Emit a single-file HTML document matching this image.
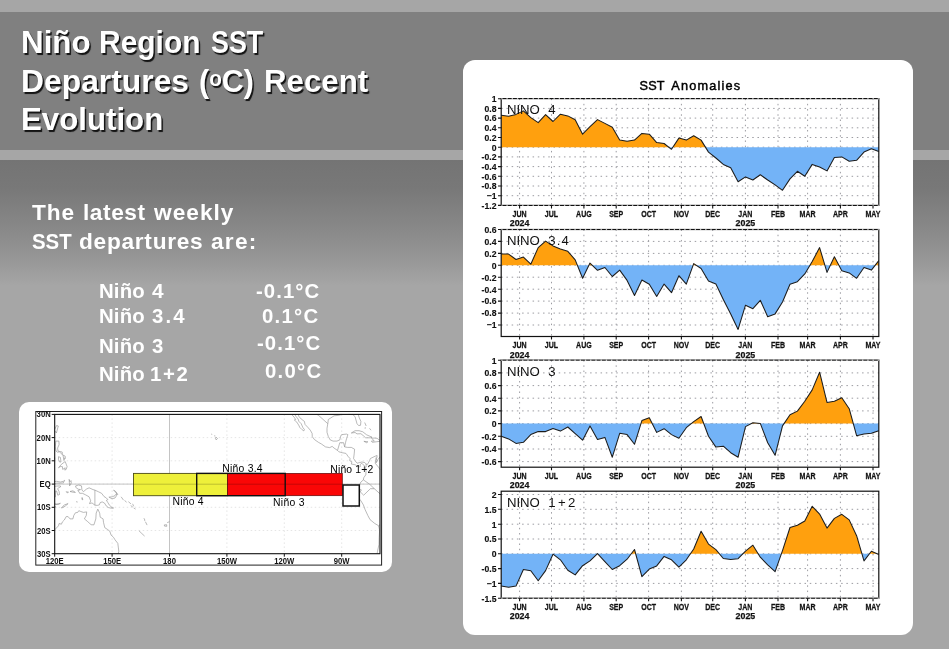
<!DOCTYPE html>
<html lang="en"><head><meta charset="utf-8"><title>Niño Region SST Departures</title>
<style>
html,body{margin:0;padding:0}
body{width:949px;height:649px;overflow:hidden;position:relative;background:#a6a6a6;font-family:"Liberation Sans",sans-serif}
.b1{position:absolute;left:0;top:0;width:949px;height:12px;background:#a6a6a6}
.b2{position:absolute;left:0;top:12px;width:949px;height:138px;background:#808080}
.b3{position:absolute;left:0;top:150px;width:949px;height:10px;background:#a6a6a6}
.b4{position:absolute;left:0;top:160px;width:949px;height:489px;background:linear-gradient(#747474 0,#787878 28px,#888 68px,#979797 100px,#a6a6a6 126px,#a6a6a6 100%)}
.card{position:absolute;background:#fff}
#c1{left:462.5px;top:60px;width:450.2px;height:575px;border-radius:12px}
#c2{left:19px;top:402px;width:372.5px;height:170px;border-radius:10px}
.g{margin:0;padding:0;font-size:0}
.w{position:absolute;font-weight:bold;color:#fff;white-space:nowrap;line-height:1;transform-origin:0 0}
.t{text-shadow:1.5px 1.5px .8px rgba(0,0,0,.85)}
sup{font-size:.68em;vertical-align:baseline;position:relative;top:-.28em;line-height:0}
svg{position:absolute;left:0;top:0}
svg text{font-family:"Liberation Sans",sans-serif;fill:#111}
.tk{font-size:9.3px;font-weight:bold;stroke:#111;stroke-width:.15px}
.gr{stroke:#9c9ca2;stroke-width:1;stroke-dasharray:1.5 3.73;fill:none}
.mo{font-size:8.8px;font-weight:bold;stroke:#111;stroke-width:.25px}
.nm{font-size:13.2px;fill:#111}
.tt{font-size:12.7px;fill:#000;stroke:#000;stroke-width:.45px}
.ml{font-size:9.6px;font-weight:bold}
.rg{font-size:10.4px;fill:#000}
</style></head><body>
<div class="b1"></div><div class="b2"></div><div class="b3"></div><div class="b4"></div>
<div id="txt"><h1 class="g"><span class="w t" style="left:21.01px;top:27.24px;font-size:31.5px;transform:scaleX(0.9955)">Niño</span> <span class="w t" style="left:99.10px;top:27.24px;font-size:31.5px;transform:scaleX(0.9515)">Region</span> <span class="w t" style="left:211.15px;top:27.24px;font-size:31.5px;transform:scaleX(0.8533)">SST</span> <span class="w t" style="left:20.98px;top:65.54px;font-size:31.5px;transform:scaleX(1.0104)">Departures</span> <span class="w t" style="left:199.43px;top:65.54px;font-size:31.5px;transform:scaleX(0.9685)">(<sup>o</sup>C)</span> <span class="w t" style="left:264.02px;top:65.54px;font-size:31.5px;transform:scaleX(0.9922)">Recent</span> <span class="w t" style="left:20.92px;top:104.14px;font-size:31.5px;transform:scaleX(0.9914)">Evolution</span></h1>
<p class="g"><span class="w b" style="left:32.00px;top:202.02px;font-size:21.6px;letter-spacing:0.86px;transform:scaleX(1.0500)">The</span> <span class="w b" style="left:83.35px;top:202.02px;font-size:21.6px;letter-spacing:0.54px;transform:scaleX(1.0500)">latest</span> <span class="w b" style="left:153.70px;top:202.02px;font-size:21.6px;letter-spacing:0.96px;transform:scaleX(1.0500)">weekly</span> <span class="w b" style="left:31.86px;top:231.12px;font-size:21.6px;transform:scaleX(0.9439)">SST</span> <span class="w b" style="left:78.95px;top:231.12px;font-size:21.6px;letter-spacing:0.69px;transform:scaleX(1.0500)">departures</span> <span class="w b" style="left:210.75px;top:231.12px;font-size:21.6px;letter-spacing:1.19px;transform:scaleX(1.0500)">are:</span></p>
<div class="g"><span class="w b" style="left:98.55px;top:282.08px;font-size:19.4px;letter-spacing:0.14px;transform:scaleX(1.0500)">Niño</span> <span class="w b" style="left:151.50px;top:282.08px;font-size:19.4px;transform:scaleX(1.0727)">4</span> <span class="w b" style="left:255.85px;top:282.08px;font-size:19.4px;letter-spacing:1.01px;transform:scaleX(1.0500)">-0.1°C</span></div>
<div class="g"><span class="w b" style="left:99.05px;top:307.38px;font-size:19.4px;letter-spacing:0.14px;transform:scaleX(1.0500)">Niño</span> <span class="w b" style="left:151.50px;top:307.38px;font-size:19.4px;letter-spacing:2.02px;transform:scaleX(1.0500)">3.4</span> <span class="w b" style="left:262.15px;top:306.58px;font-size:19.4px;letter-spacing:1.20px;transform:scaleX(1.0500)">0.1°C</span></div>
<div class="g"><span class="w b" style="left:98.55px;top:337.48px;font-size:19.4px;letter-spacing:0.14px;transform:scaleX(1.0500)">Niño</span> <span class="w b" style="left:151.50px;top:337.48px;font-size:19.4px;transform:scaleX(1.0500)">3</span> <span class="w b" style="left:257.15px;top:334.48px;font-size:19.4px;letter-spacing:0.99px;transform:scaleX(1.0500)">-0.1°C</span></div>
<div class="g"><span class="w b" style="left:98.55px;top:365.28px;font-size:19.4px;letter-spacing:0.14px;transform:scaleX(1.0500)">Niño</span> <span class="w b" style="left:150.45px;top:365.28px;font-size:19.4px;letter-spacing:1.60px;transform:scaleX(1.0500)">1+2</span> <span class="w b" style="left:264.75px;top:362.28px;font-size:19.4px;letter-spacing:1.18px;transform:scaleX(1.0500)">0.0°C</span></div></div>
<div class="card" id="c1"></div>
<div class="card" id="c2"></div>
<svg width="949" height="649" viewBox="0 0 949 649">
<text class="tt" y="89.9"><tspan x="639.6" textLength="24.8">SST</tspan> <tspan x="671.3" textLength="68.8">Anomalies</tspan></text>
<path d="M501.2,108.4H878.8M501.2,118.1H878.8M501.2,127.8H878.8M501.2,137.5H878.8M501.2,147.2H878.8M501.2,156.9H878.8M501.2,166.6H878.8M501.2,176.3H878.8M501.2,186.0H878.8M501.2,195.7H878.8M519.6,98.6V205.4M551.5,98.6V205.4M583.9,98.6V205.4M616.2,98.6V205.4M648.6,98.6V205.4M681.4,98.6V205.4M712.7,98.6V205.4M745.4,98.6V205.4M778.0,98.6V205.4M807.6,98.6V205.4M840.4,98.6V205.4M873.0,98.6V205.4" class="gr"/>
<clipPath id="c0a"><rect x="501.2" y="98.6" width="377.6" height="48.6"/></clipPath>
<clipPath id="c0b"><rect x="501.2" y="147.2" width="377.6" height="58.2"/></clipPath>
<path d="M501.2,205.4 L501.2,115.2 L508.6,116.3 L516.0,114.4 L523.4,110.9 L530.8,117.6 L538.2,122.6 L545.6,114.6 L553.0,121.5 L560.4,114.2 L567.8,115.9 L575.2,119.8 L582.6,134.2 L590.0,126.7 L597.5,119.6 L604.9,123.4 L612.3,127.3 L619.7,140.1 L627.1,141.3 L634.5,140.1 L641.9,133.4 L649.3,134.2 L656.7,142.6 L664.1,143.5 L671.5,149.3 L678.9,138.1 L686.3,140.1 L693.7,135.7 L701.1,140.1 L708.5,152.1 L715.9,158.0 L723.3,164.4 L730.7,167.7 L738.1,181.7 L745.5,176.9 L752.9,180.0 L760.3,174.8 L767.7,180.0 L775.1,184.9 L782.5,190.3 L790.0,178.9 L797.4,171.3 L804.8,176.3 L812.2,164.4 L819.6,167.0 L827.0,170.9 L834.4,157.5 L841.8,156.9 L849.2,161.2 L856.6,160.3 L864.0,152.1 L871.4,148.7 L878.8,151.5 L878.8,205.4 Z" fill="#ffa00e" clip-path="url(#c0a)"/>
<path d="M501.2,98.6 L501.2,115.2 L508.6,116.3 L516.0,114.4 L523.4,110.9 L530.8,117.6 L538.2,122.6 L545.6,114.6 L553.0,121.5 L560.4,114.2 L567.8,115.9 L575.2,119.8 L582.6,134.2 L590.0,126.7 L597.5,119.6 L604.9,123.4 L612.3,127.3 L619.7,140.1 L627.1,141.3 L634.5,140.1 L641.9,133.4 L649.3,134.2 L656.7,142.6 L664.1,143.5 L671.5,149.3 L678.9,138.1 L686.3,140.1 L693.7,135.7 L701.1,140.1 L708.5,152.1 L715.9,158.0 L723.3,164.4 L730.7,167.7 L738.1,181.7 L745.5,176.9 L752.9,180.0 L760.3,174.8 L767.7,180.0 L775.1,184.9 L782.5,190.3 L790.0,178.9 L797.4,171.3 L804.8,176.3 L812.2,164.4 L819.6,167.0 L827.0,170.9 L834.4,157.5 L841.8,156.9 L849.2,161.2 L856.6,160.3 L864.0,152.1 L871.4,148.7 L878.8,151.5 L878.8,98.6 Z" fill="#73b3f7" clip-path="url(#c0b)"/>
<polyline points="501.2,115.2 508.6,116.3 516.0,114.4 523.4,110.9 530.8,117.6 538.2,122.6 545.6,114.6 553.0,121.5 560.4,114.2 567.8,115.9 575.2,119.8 582.6,134.2 590.0,126.7 597.5,119.6 604.9,123.4 612.3,127.3 619.7,140.1 627.1,141.3 634.5,140.1 641.9,133.4 649.3,134.2 656.7,142.6 664.1,143.5 671.5,149.3 678.9,138.1 686.3,140.1 693.7,135.7 701.1,140.1 708.5,152.1 715.9,158.0 723.3,164.4 730.7,167.7 738.1,181.7 745.5,176.9 752.9,180.0 760.3,174.8 767.7,180.0 775.1,184.9 782.5,190.3 790.0,178.9 797.4,171.3 804.8,176.3 812.2,164.4 819.6,167.0 827.0,170.9 834.4,157.5 841.8,156.9 849.2,161.2 856.6,160.3 864.0,152.1 871.4,148.7 878.8,151.5" fill="none" stroke="#1c1c1c" stroke-width="1.05" stroke-linejoin="round"/>
<rect x="501.2" y="98.6" width="377.6" height="106.8" fill="none" stroke="#111" stroke-width="1.2"/>
<path d="M501.2,98.7H878.8M501.2,205.4H878.8" stroke="#fff" stroke-opacity=".7" stroke-width="1.4" stroke-dasharray="1.3 3.93" fill="none"/>
<path d="M498.0,98.7H501.2M498.0,108.4H501.2M498.0,118.1H501.2M498.0,127.8H501.2M498.0,137.5H501.2M498.0,147.2H501.2M498.0,156.9H501.2M498.0,166.6H501.2M498.0,176.3H501.2M498.0,186.0H501.2M498.0,195.7H501.2M498.0,205.4H501.2M519.6,205.4v3M551.5,205.4v3M583.9,205.4v3M616.2,205.4v3M648.6,205.4v3M681.4,205.4v3M712.7,205.4v3M745.4,205.4v3M778.0,205.4v3M807.6,205.4v3M840.4,205.4v3M873.0,205.4v3" stroke="#111" stroke-width="1.1" fill="none"/>
<text class="tk" transform="translate(496.5,102.0) scale(.93,1)" text-anchor="end">1</text>
<text class="tk" transform="translate(496.5,111.7) scale(.93,1)" text-anchor="end">0.8</text>
<text class="tk" transform="translate(496.5,121.4) scale(.93,1)" text-anchor="end">0.6</text>
<text class="tk" transform="translate(496.5,131.1) scale(.93,1)" text-anchor="end">0.4</text>
<text class="tk" transform="translate(496.5,140.8) scale(.93,1)" text-anchor="end">0.2</text>
<text class="tk" transform="translate(496.5,150.5) scale(.93,1)" text-anchor="end">0</text>
<text class="tk" transform="translate(496.5,160.2) scale(.93,1)" text-anchor="end">-0.2</text>
<text class="tk" transform="translate(496.5,169.9) scale(.93,1)" text-anchor="end">-0.4</text>
<text class="tk" transform="translate(496.5,179.6) scale(.93,1)" text-anchor="end">-0.6</text>
<text class="tk" transform="translate(496.5,189.3) scale(.93,1)" text-anchor="end">-0.8</text>
<text class="tk" transform="translate(496.5,199.0) scale(.93,1)" text-anchor="end">−1</text>
<text class="tk" transform="translate(496.5,208.7) scale(.93,1)" text-anchor="end">-1.2</text>
<text class="mo" transform="translate(519.6,216.9) scale(0.8,1)" text-anchor="middle">JUN</text>
<text class="mo" x="519.6" y="226.4" text-anchor="middle">2024</text>
<text class="mo" transform="translate(551.5,216.9) scale(0.8,1)" text-anchor="middle">JUL</text>
<text class="mo" transform="translate(583.9,216.9) scale(0.8,1)" text-anchor="middle">AUG</text>
<text class="mo" transform="translate(616.2,216.9) scale(0.8,1)" text-anchor="middle">SEP</text>
<text class="mo" transform="translate(648.6,216.9) scale(0.8,1)" text-anchor="middle">OCT</text>
<text class="mo" transform="translate(681.4,216.9) scale(0.8,1)" text-anchor="middle">NOV</text>
<text class="mo" transform="translate(712.7,216.9) scale(0.8,1)" text-anchor="middle">DEC</text>
<text class="mo" transform="translate(745.4,216.9) scale(0.8,1)" text-anchor="middle">JAN</text>
<text class="mo" x="745.4" y="226.4" text-anchor="middle">2025</text>
<text class="mo" transform="translate(778.0,216.9) scale(0.8,1)" text-anchor="middle">FEB</text>
<text class="mo" transform="translate(807.6,216.9) scale(0.8,1)" text-anchor="middle">MAR</text>
<text class="mo" transform="translate(840.4,216.9) scale(0.8,1)" text-anchor="middle">APR</text>
<text class="mo" transform="translate(873.0,216.9) scale(0.8,1)" text-anchor="middle">MAY</text>
<text class="nm" x="506.9" y="114.2">NINO <tspan x="548.3" letter-spacing="1.1">4</tspan></text>
<path d="M501.2,241.4H878.8M501.2,253.4H878.8M501.2,265.3H878.8M501.2,277.2H878.8M501.2,289.2H878.8M501.2,301.1H878.8M501.2,313.1H878.8M501.2,325.0H878.8M519.6,229.5V336.5M551.5,229.5V336.5M583.9,229.5V336.5M616.2,229.5V336.5M648.6,229.5V336.5M681.4,229.5V336.5M712.7,229.5V336.5M745.4,229.5V336.5M778.0,229.5V336.5M807.6,229.5V336.5M840.4,229.5V336.5M873.0,229.5V336.5" class="gr"/>
<clipPath id="c1a"><rect x="501.2" y="229.5" width="377.6" height="35.8"/></clipPath>
<clipPath id="c1b"><rect x="501.2" y="265.3" width="377.6" height="71.2"/></clipPath>
<path d="M501.2,336.5 L501.2,253.9 L508.6,254.1 L516.0,259.5 L523.4,257.1 L530.8,264.2 L538.2,247.6 L545.6,241.1 L553.0,245.9 L560.4,249.1 L567.8,251.3 L575.2,259.9 L582.6,278.3 L590.0,263.1 L597.5,270.3 L604.9,267.5 L612.3,276.5 L619.7,270.1 L627.1,280.4 L634.5,295.5 L641.9,280.0 L649.3,284.3 L656.7,296.4 L664.1,284.1 L671.5,292.7 L678.9,275.7 L686.3,284.1 L693.7,263.6 L701.1,268.5 L708.5,281.1 L715.9,284.1 L723.3,299.4 L730.7,313.9 L738.1,329.4 L745.5,305.2 L752.9,308.7 L760.3,300.3 L767.7,316.7 L775.1,313.9 L782.5,302.0 L790.0,284.3 L797.4,281.7 L804.8,273.9 L812.2,261.6 L819.6,247.6 L827.0,272.4 L834.4,256.7 L841.8,270.7 L849.2,272.9 L856.6,278.3 L864.0,267.5 L871.4,270.1 L878.8,260.6 L878.8,336.5 Z" fill="#ffa00e" clip-path="url(#c1a)"/>
<path d="M501.2,229.5 L501.2,253.9 L508.6,254.1 L516.0,259.5 L523.4,257.1 L530.8,264.2 L538.2,247.6 L545.6,241.1 L553.0,245.9 L560.4,249.1 L567.8,251.3 L575.2,259.9 L582.6,278.3 L590.0,263.1 L597.5,270.3 L604.9,267.5 L612.3,276.5 L619.7,270.1 L627.1,280.4 L634.5,295.5 L641.9,280.0 L649.3,284.3 L656.7,296.4 L664.1,284.1 L671.5,292.7 L678.9,275.7 L686.3,284.1 L693.7,263.6 L701.1,268.5 L708.5,281.1 L715.9,284.1 L723.3,299.4 L730.7,313.9 L738.1,329.4 L745.5,305.2 L752.9,308.7 L760.3,300.3 L767.7,316.7 L775.1,313.9 L782.5,302.0 L790.0,284.3 L797.4,281.7 L804.8,273.9 L812.2,261.6 L819.6,247.6 L827.0,272.4 L834.4,256.7 L841.8,270.7 L849.2,272.9 L856.6,278.3 L864.0,267.5 L871.4,270.1 L878.8,260.6 L878.8,229.5 Z" fill="#73b3f7" clip-path="url(#c1b)"/>
<polyline points="501.2,253.9 508.6,254.1 516.0,259.5 523.4,257.1 530.8,264.2 538.2,247.6 545.6,241.1 553.0,245.9 560.4,249.1 567.8,251.3 575.2,259.9 582.6,278.3 590.0,263.1 597.5,270.3 604.9,267.5 612.3,276.5 619.7,270.1 627.1,280.4 634.5,295.5 641.9,280.0 649.3,284.3 656.7,296.4 664.1,284.1 671.5,292.7 678.9,275.7 686.3,284.1 693.7,263.6 701.1,268.5 708.5,281.1 715.9,284.1 723.3,299.4 730.7,313.9 738.1,329.4 745.5,305.2 752.9,308.7 760.3,300.3 767.7,316.7 775.1,313.9 782.5,302.0 790.0,284.3 797.4,281.7 804.8,273.9 812.2,261.6 819.6,247.6 827.0,272.4 834.4,256.7 841.8,270.7 849.2,272.9 856.6,278.3 864.0,267.5 871.4,270.1 878.8,260.6" fill="none" stroke="#1c1c1c" stroke-width="1.05" stroke-linejoin="round"/>
<rect x="501.2" y="229.5" width="377.6" height="107.0" fill="none" stroke="#111" stroke-width="1.2"/>
<path d="M501.2,229.5H878.8" stroke="#fff" stroke-opacity=".7" stroke-width="1.4" stroke-dasharray="1.3 3.93" fill="none"/>
<path d="M498.0,229.5H501.2M498.0,241.4H501.2M498.0,253.4H501.2M498.0,265.3H501.2M498.0,277.2H501.2M498.0,289.2H501.2M498.0,301.1H501.2M498.0,313.1H501.2M498.0,325.0H501.2M519.6,336.5v3M551.5,336.5v3M583.9,336.5v3M616.2,336.5v3M648.6,336.5v3M681.4,336.5v3M712.7,336.5v3M745.4,336.5v3M778.0,336.5v3M807.6,336.5v3M840.4,336.5v3M873.0,336.5v3" stroke="#111" stroke-width="1.1" fill="none"/>
<text class="tk" transform="translate(496.5,232.8) scale(.93,1)" text-anchor="end">0.6</text>
<text class="tk" transform="translate(496.5,244.7) scale(.93,1)" text-anchor="end">0.4</text>
<text class="tk" transform="translate(496.5,256.7) scale(.93,1)" text-anchor="end">0.2</text>
<text class="tk" transform="translate(496.5,268.6) scale(.93,1)" text-anchor="end">0</text>
<text class="tk" transform="translate(496.5,280.5) scale(.93,1)" text-anchor="end">-0.2</text>
<text class="tk" transform="translate(496.5,292.5) scale(.93,1)" text-anchor="end">-0.4</text>
<text class="tk" transform="translate(496.5,304.4) scale(.93,1)" text-anchor="end">-0.6</text>
<text class="tk" transform="translate(496.5,316.4) scale(.93,1)" text-anchor="end">-0.8</text>
<text class="tk" transform="translate(496.5,328.3) scale(.93,1)" text-anchor="end">−1</text>
<text class="mo" transform="translate(519.6,348.0) scale(0.8,1)" text-anchor="middle">JUN</text>
<text class="mo" x="519.6" y="357.5" text-anchor="middle">2024</text>
<text class="mo" transform="translate(551.5,348.0) scale(0.8,1)" text-anchor="middle">JUL</text>
<text class="mo" transform="translate(583.9,348.0) scale(0.8,1)" text-anchor="middle">AUG</text>
<text class="mo" transform="translate(616.2,348.0) scale(0.8,1)" text-anchor="middle">SEP</text>
<text class="mo" transform="translate(648.6,348.0) scale(0.8,1)" text-anchor="middle">OCT</text>
<text class="mo" transform="translate(681.4,348.0) scale(0.8,1)" text-anchor="middle">NOV</text>
<text class="mo" transform="translate(712.7,348.0) scale(0.8,1)" text-anchor="middle">DEC</text>
<text class="mo" transform="translate(745.4,348.0) scale(0.8,1)" text-anchor="middle">JAN</text>
<text class="mo" x="745.4" y="357.5" text-anchor="middle">2025</text>
<text class="mo" transform="translate(778.0,348.0) scale(0.8,1)" text-anchor="middle">FEB</text>
<text class="mo" transform="translate(807.6,348.0) scale(0.8,1)" text-anchor="middle">MAR</text>
<text class="mo" transform="translate(840.4,348.0) scale(0.8,1)" text-anchor="middle">APR</text>
<text class="mo" transform="translate(873.0,348.0) scale(0.8,1)" text-anchor="middle">MAY</text>
<text class="nm" x="506.9" y="245.1">NINO <tspan x="548.3" letter-spacing="1.1">3.4</tspan></text>
<path d="M501.2,372.9H878.8M501.2,385.6H878.8M501.2,398.2H878.8M501.2,410.9H878.8M501.2,423.6H878.8M501.2,436.3H878.8M501.2,449.0H878.8M501.2,461.6H878.8M519.6,360.1V467.2M551.5,360.1V467.2M583.9,360.1V467.2M616.2,360.1V467.2M648.6,360.1V467.2M681.4,360.1V467.2M712.7,360.1V467.2M745.4,360.1V467.2M778.0,360.1V467.2M807.6,360.1V467.2M840.4,360.1V467.2M873.0,360.1V467.2" class="gr"/>
<clipPath id="c2a"><rect x="501.2" y="360.1" width="377.6" height="63.5"/></clipPath>
<clipPath id="c2b"><rect x="501.2" y="423.6" width="377.6" height="43.6"/></clipPath>
<path d="M501.2,467.2 L501.2,436.3 L508.6,438.9 L516.0,443.4 L523.4,442.3 L530.8,434.6 L538.2,431.6 L545.6,431.6 L553.0,428.5 L560.4,431.1 L567.8,427.0 L575.2,433.7 L582.6,440.2 L590.0,425.9 L597.5,439.5 L604.9,437.4 L612.3,457.2 L619.7,433.3 L627.1,434.6 L634.5,444.3 L641.9,420.6 L649.3,417.7 L656.7,432.4 L664.1,428.7 L671.5,434.6 L678.9,438.2 L686.3,427.7 L693.7,421.6 L701.1,416.5 L708.5,436.3 L715.9,447.1 L723.3,446.2 L730.7,452.7 L738.1,457.2 L745.5,426.6 L752.9,422.7 L760.3,423.4 L767.7,442.8 L775.1,455.3 L782.5,425.9 L790.0,414.7 L797.4,411.1 L804.8,401.3 L812.2,389.9 L819.6,372.2 L827.0,402.4 L834.4,401.3 L841.8,397.7 L849.2,408.7 L856.6,435.7 L864.0,434.1 L871.4,433.3 L878.8,430.7 L878.8,467.2 Z" fill="#ffa00e" clip-path="url(#c2a)"/>
<path d="M501.2,360.1 L501.2,436.3 L508.6,438.9 L516.0,443.4 L523.4,442.3 L530.8,434.6 L538.2,431.6 L545.6,431.6 L553.0,428.5 L560.4,431.1 L567.8,427.0 L575.2,433.7 L582.6,440.2 L590.0,425.9 L597.5,439.5 L604.9,437.4 L612.3,457.2 L619.7,433.3 L627.1,434.6 L634.5,444.3 L641.9,420.6 L649.3,417.7 L656.7,432.4 L664.1,428.7 L671.5,434.6 L678.9,438.2 L686.3,427.7 L693.7,421.6 L701.1,416.5 L708.5,436.3 L715.9,447.1 L723.3,446.2 L730.7,452.7 L738.1,457.2 L745.5,426.6 L752.9,422.7 L760.3,423.4 L767.7,442.8 L775.1,455.3 L782.5,425.9 L790.0,414.7 L797.4,411.1 L804.8,401.3 L812.2,389.9 L819.6,372.2 L827.0,402.4 L834.4,401.3 L841.8,397.7 L849.2,408.7 L856.6,435.7 L864.0,434.1 L871.4,433.3 L878.8,430.7 L878.8,360.1 Z" fill="#73b3f7" clip-path="url(#c2b)"/>
<polyline points="501.2,436.3 508.6,438.9 516.0,443.4 523.4,442.3 530.8,434.6 538.2,431.6 545.6,431.6 553.0,428.5 560.4,431.1 567.8,427.0 575.2,433.7 582.6,440.2 590.0,425.9 597.5,439.5 604.9,437.4 612.3,457.2 619.7,433.3 627.1,434.6 634.5,444.3 641.9,420.6 649.3,417.7 656.7,432.4 664.1,428.7 671.5,434.6 678.9,438.2 686.3,427.7 693.7,421.6 701.1,416.5 708.5,436.3 715.9,447.1 723.3,446.2 730.7,452.7 738.1,457.2 745.5,426.6 752.9,422.7 760.3,423.4 767.7,442.8 775.1,455.3 782.5,425.9 790.0,414.7 797.4,411.1 804.8,401.3 812.2,389.9 819.6,372.2 827.0,402.4 834.4,401.3 841.8,397.7 849.2,408.7 856.6,435.7 864.0,434.1 871.4,433.3 878.8,430.7" fill="none" stroke="#1c1c1c" stroke-width="1.05" stroke-linejoin="round"/>
<rect x="501.2" y="360.1" width="377.6" height="107.1" fill="none" stroke="#111" stroke-width="1.2"/>
<path d="M501.2,360.2H878.8" stroke="#fff" stroke-opacity=".7" stroke-width="1.4" stroke-dasharray="1.3 3.93" fill="none"/>
<path d="M498.0,360.2H501.2M498.0,372.9H501.2M498.0,385.6H501.2M498.0,398.2H501.2M498.0,410.9H501.2M498.0,423.6H501.2M498.0,436.3H501.2M498.0,449.0H501.2M498.0,461.6H501.2M519.6,467.2v3M551.5,467.2v3M583.9,467.2v3M616.2,467.2v3M648.6,467.2v3M681.4,467.2v3M712.7,467.2v3M745.4,467.2v3M778.0,467.2v3M807.6,467.2v3M840.4,467.2v3M873.0,467.2v3" stroke="#111" stroke-width="1.1" fill="none"/>
<text class="tk" transform="translate(496.5,363.5) scale(.93,1)" text-anchor="end">1</text>
<text class="tk" transform="translate(496.5,376.2) scale(.93,1)" text-anchor="end">0.8</text>
<text class="tk" transform="translate(496.5,388.9) scale(.93,1)" text-anchor="end">0.6</text>
<text class="tk" transform="translate(496.5,401.5) scale(.93,1)" text-anchor="end">0.4</text>
<text class="tk" transform="translate(496.5,414.2) scale(.93,1)" text-anchor="end">0.2</text>
<text class="tk" transform="translate(496.5,426.9) scale(.93,1)" text-anchor="end">0</text>
<text class="tk" transform="translate(496.5,439.6) scale(.93,1)" text-anchor="end">-0.2</text>
<text class="tk" transform="translate(496.5,452.3) scale(.93,1)" text-anchor="end">-0.4</text>
<text class="tk" transform="translate(496.5,464.9) scale(.93,1)" text-anchor="end">-0.6</text>
<text class="mo" transform="translate(519.6,478.7) scale(0.8,1)" text-anchor="middle">JUN</text>
<text class="mo" x="519.6" y="488.2" text-anchor="middle">2024</text>
<text class="mo" transform="translate(551.5,478.7) scale(0.8,1)" text-anchor="middle">JUL</text>
<text class="mo" transform="translate(583.9,478.7) scale(0.8,1)" text-anchor="middle">AUG</text>
<text class="mo" transform="translate(616.2,478.7) scale(0.8,1)" text-anchor="middle">SEP</text>
<text class="mo" transform="translate(648.6,478.7) scale(0.8,1)" text-anchor="middle">OCT</text>
<text class="mo" transform="translate(681.4,478.7) scale(0.8,1)" text-anchor="middle">NOV</text>
<text class="mo" transform="translate(712.7,478.7) scale(0.8,1)" text-anchor="middle">DEC</text>
<text class="mo" transform="translate(745.4,478.7) scale(0.8,1)" text-anchor="middle">JAN</text>
<text class="mo" x="745.4" y="488.2" text-anchor="middle">2025</text>
<text class="mo" transform="translate(778.0,478.7) scale(0.8,1)" text-anchor="middle">FEB</text>
<text class="mo" transform="translate(807.6,478.7) scale(0.8,1)" text-anchor="middle">MAR</text>
<text class="mo" transform="translate(840.4,478.7) scale(0.8,1)" text-anchor="middle">APR</text>
<text class="mo" transform="translate(873.0,478.7) scale(0.8,1)" text-anchor="middle">MAY</text>
<text class="nm" x="506.9" y="375.7">NINO <tspan x="548.3" letter-spacing="1.1">3</tspan></text>
<path d="M501.2,494.5H878.8M501.2,509.3H878.8M501.2,524.2H878.8M501.2,539.0H878.8M501.2,553.8H878.8M501.2,568.6H878.8M501.2,583.4H878.8M519.6,491.2V598.2M551.5,491.2V598.2M583.9,491.2V598.2M616.2,491.2V598.2M648.6,491.2V598.2M681.4,491.2V598.2M712.7,491.2V598.2M745.4,491.2V598.2M778.0,491.2V598.2M807.6,491.2V598.2M840.4,491.2V598.2M873.0,491.2V598.2" class="gr"/>
<clipPath id="c3a"><rect x="501.2" y="491.2" width="377.6" height="62.6"/></clipPath>
<clipPath id="c3b"><rect x="501.2" y="553.8" width="377.6" height="44.4"/></clipPath>
<path d="M501.2,598.2 L501.2,586.1 L508.6,587.2 L516.0,586.1 L523.4,569.5 L530.8,570.8 L538.2,580.8 L545.6,570.6 L553.0,554.2 L560.4,559.8 L567.8,570.2 L575.2,574.9 L582.6,565.7 L590.0,560.9 L597.5,553.6 L604.9,561.6 L612.3,569.5 L619.7,565.7 L627.1,559.2 L634.5,549.5 L641.9,576.7 L649.3,569.1 L656.7,565.9 L664.1,556.4 L671.5,559.8 L678.9,567.2 L686.3,559.8 L693.7,549.0 L701.1,531.3 L708.5,544.1 L715.9,549.7 L723.3,558.5 L730.7,559.4 L738.1,558.7 L745.5,551.2 L752.9,545.2 L760.3,557.2 L767.7,564.8 L775.1,571.7 L782.5,550.6 L790.0,527.5 L797.4,525.3 L804.8,521.0 L812.2,506.3 L819.6,514.1 L827.0,528.1 L834.4,518.4 L841.8,514.3 L849.2,519.9 L856.6,535.7 L864.0,560.9 L871.4,551.2 L878.8,554.4 L878.8,598.2 Z" fill="#ffa00e" clip-path="url(#c3a)"/>
<path d="M501.2,491.2 L501.2,586.1 L508.6,587.2 L516.0,586.1 L523.4,569.5 L530.8,570.8 L538.2,580.8 L545.6,570.6 L553.0,554.2 L560.4,559.8 L567.8,570.2 L575.2,574.9 L582.6,565.7 L590.0,560.9 L597.5,553.6 L604.9,561.6 L612.3,569.5 L619.7,565.7 L627.1,559.2 L634.5,549.5 L641.9,576.7 L649.3,569.1 L656.7,565.9 L664.1,556.4 L671.5,559.8 L678.9,567.2 L686.3,559.8 L693.7,549.0 L701.1,531.3 L708.5,544.1 L715.9,549.7 L723.3,558.5 L730.7,559.4 L738.1,558.7 L745.5,551.2 L752.9,545.2 L760.3,557.2 L767.7,564.8 L775.1,571.7 L782.5,550.6 L790.0,527.5 L797.4,525.3 L804.8,521.0 L812.2,506.3 L819.6,514.1 L827.0,528.1 L834.4,518.4 L841.8,514.3 L849.2,519.9 L856.6,535.7 L864.0,560.9 L871.4,551.2 L878.8,554.4 L878.8,491.2 Z" fill="#73b3f7" clip-path="url(#c3b)"/>
<polyline points="501.2,586.1 508.6,587.2 516.0,586.1 523.4,569.5 530.8,570.8 538.2,580.8 545.6,570.6 553.0,554.2 560.4,559.8 567.8,570.2 575.2,574.9 582.6,565.7 590.0,560.9 597.5,553.6 604.9,561.6 612.3,569.5 619.7,565.7 627.1,559.2 634.5,549.5 641.9,576.7 649.3,569.1 656.7,565.9 664.1,556.4 671.5,559.8 678.9,567.2 686.3,559.8 693.7,549.0 701.1,531.3 708.5,544.1 715.9,549.7 723.3,558.5 730.7,559.4 738.1,558.7 745.5,551.2 752.9,545.2 760.3,557.2 767.7,564.8 775.1,571.7 782.5,550.6 790.0,527.5 797.4,525.3 804.8,521.0 812.2,506.3 819.6,514.1 827.0,528.1 834.4,518.4 841.8,514.3 849.2,519.9 856.6,535.7 864.0,560.9 871.4,551.2 878.8,554.4" fill="none" stroke="#1c1c1c" stroke-width="1.05" stroke-linejoin="round"/>
<rect x="501.2" y="491.2" width="377.6" height="107.0" fill="none" stroke="#111" stroke-width="1.2"/>
<path d="M501.2,598.3H878.8" stroke="#fff" stroke-opacity=".7" stroke-width="1.4" stroke-dasharray="1.3 3.93" fill="none"/>
<path d="M498.0,494.5H501.2M498.0,509.3H501.2M498.0,524.2H501.2M498.0,539.0H501.2M498.0,553.8H501.2M498.0,568.6H501.2M498.0,583.4H501.2M498.0,598.3H501.2M519.6,598.2v3M551.5,598.2v3M583.9,598.2v3M616.2,598.2v3M648.6,598.2v3M681.4,598.2v3M712.7,598.2v3M745.4,598.2v3M778.0,598.2v3M807.6,598.2v3M840.4,598.2v3M873.0,598.2v3" stroke="#111" stroke-width="1.1" fill="none"/>
<text class="tk" transform="translate(496.5,497.8) scale(.93,1)" text-anchor="end">2</text>
<text class="tk" transform="translate(496.5,512.6) scale(.93,1)" text-anchor="end">1.5</text>
<text class="tk" transform="translate(496.5,527.5) scale(.93,1)" text-anchor="end">1</text>
<text class="tk" transform="translate(496.5,542.3) scale(.93,1)" text-anchor="end">0.5</text>
<text class="tk" transform="translate(496.5,557.1) scale(.93,1)" text-anchor="end">0</text>
<text class="tk" transform="translate(496.5,571.9) scale(.93,1)" text-anchor="end">-0.5</text>
<text class="tk" transform="translate(496.5,586.7) scale(.93,1)" text-anchor="end">−1</text>
<text class="tk" transform="translate(496.5,601.6) scale(.93,1)" text-anchor="end">-1.5</text>
<text class="mo" transform="translate(519.6,609.7) scale(0.8,1)" text-anchor="middle">JUN</text>
<text class="mo" x="519.6" y="619.2" text-anchor="middle">2024</text>
<text class="mo" transform="translate(551.5,609.7) scale(0.8,1)" text-anchor="middle">JUL</text>
<text class="mo" transform="translate(583.9,609.7) scale(0.8,1)" text-anchor="middle">AUG</text>
<text class="mo" transform="translate(616.2,609.7) scale(0.8,1)" text-anchor="middle">SEP</text>
<text class="mo" transform="translate(648.6,609.7) scale(0.8,1)" text-anchor="middle">OCT</text>
<text class="mo" transform="translate(681.4,609.7) scale(0.8,1)" text-anchor="middle">NOV</text>
<text class="mo" transform="translate(712.7,609.7) scale(0.8,1)" text-anchor="middle">DEC</text>
<text class="mo" transform="translate(745.4,609.7) scale(0.8,1)" text-anchor="middle">JAN</text>
<text class="mo" x="745.4" y="619.2" text-anchor="middle">2025</text>
<text class="mo" transform="translate(778.0,609.7) scale(0.8,1)" text-anchor="middle">FEB</text>
<text class="mo" transform="translate(807.6,609.7) scale(0.8,1)" text-anchor="middle">MAR</text>
<text class="mo" transform="translate(840.4,609.7) scale(0.8,1)" text-anchor="middle">APR</text>
<text class="mo" transform="translate(873.0,609.7) scale(0.8,1)" text-anchor="middle">MAY</text>
<text class="nm" x="506.9" y="506.8">NINO <tspan x="548.2" letter-spacing="2.4">1+2</tspan></text>
<rect x="35.8" y="411.5" width="345.8" height="153.6" fill="#fff" stroke="#222" stroke-width="1"/>
<path d="M112.1,414.4V553.7M169.5,414.4V553.7M226.9,414.4V553.7M284.3,414.4V553.7M341.7,414.4V553.7M54.7,437.6H380.0M54.7,460.8H380.0M54.7,484.1H380.0M54.7,507.3H380.0M54.7,530.5H380.0" stroke="#dedede" stroke-width="0.8" stroke-dasharray="1.5 2.5" fill="none"/>
<path d="M169.5,414.4V553.7M54.7,484.1H380.0" stroke="#c4c4c4" stroke-width="1" fill="none"/>
<path d="M54.7,529.8 58.5,525.8 59.1,523.5 61.4,524.2 62.4,521.9 64.3,520.0 66.2,516.6 68.1,516.6 70.0,518.9 72.9,518.9 73.8,515.4 75.4,512.8 77.7,512.4 78.8,510.7 80.5,511.4 83.4,512.4 86.7,511.9 86.3,515.4 84.4,518.9 87.2,521.2 91.1,524.7 93.9,524.9 95.8,518.9 96.2,513.1 97.8,509.1 99.7,513.1 100.2,517.2 103.1,518.9 103.5,522.4 104.8,527.7 107.3,529.3 109.8,531.2 111.1,535.1 113.6,537.4 115.0,539.8 117.8,543.3 118.4,547.9 118.8,551.4 118.2,553.7M75.7,485.9 78.6,485.0 81.5,485.9 81.9,489.9 83.4,491.7 86.3,489.2 89.1,487.8 93.0,489.6 94.9,490.1 98.7,491.9 101.6,493.3 104.1,496.6 106.4,498.0 107.9,499.6 106.4,500.3 107.9,502.6 109.2,504.9 112.1,507.7 113.6,508.0 111.1,508.2 108.3,507.5 106.4,506.1 104.5,503.1 102.2,501.9 100.2,502.6 99.3,504.9 97.2,505.4 94.9,505.2 92.0,502.9 89.5,503.6 90.7,500.8 89.1,496.8 85.3,494.7 82.4,493.3 79.6,493.3 79.0,491.7 77.7,490.6 80.5,489.6 78.2,489.2 75.7,487.3 75.7,485.9M94.9,490.1 94.9,505.2M108.9,497.1 112.1,496.8 115.0,495.7 116.3,493.8 116.5,495.7 115.0,498.0 112.1,498.7 109.8,497.7 108.9,497.1M113.6,490.1 115.9,491.7 117.8,494.5 117.5,494.7 115.0,491.5 113.6,490.1M121.1,496.8 122.8,499.1 123.4,500.1M124.7,500.3 126.5,502.4M128.4,501.7 130.9,503.8M130.7,505.6 132.8,507.0M132.6,503.8 133.7,506.3M133.7,508.0 135.6,509.1M143.9,518.2 145.0,520.3 144.3,520.5M145.4,521.7 147.1,525.1M138.9,530.7 141.8,533.5 144.6,536.1M164.3,524.9 166.6,524.7 166.8,526.3 164.5,526.1 164.3,524.9M167.2,522.6 169.5,521.7M55.8,441.1 58.9,441.1 59.1,444.6 57.6,448.1 58.0,451.1 62.2,452.0 62.4,454.8 60.4,452.7 59.5,451.8 57.6,452.2 56.0,451.1 55.3,446.9 55.8,441.1M58.5,467.8 61.4,464.3 65.2,461.5 67.1,466.6 66.2,469.4 64.8,470.1 65.2,467.8 62.7,469.4 62.4,466.6 60.1,466.6 58.5,467.8M62.9,455.0 65.2,456.2 65.4,458.5 64.3,458.0 64.1,460.4 62.9,455.0M58.5,456.7 60.4,457.4 61.0,462.0 59.5,462.0 58.5,459.7 58.5,456.7M54.7,457.4 54.7,459.7M54.7,430.7 56.4,433.0 58.3,426.0 56.6,425.5 54.7,429.3M54.7,481.7 56.6,481.3 60.4,482.0 63.3,481.3 64.7,480.3 63.3,482.9 60.4,483.1 56.6,483.1 54.7,484.1M54.7,486.4 56.6,486.1 59.5,485.9 61.0,486.4 58.5,488.0 57.6,488.7 59.1,491.5 59.5,494.5 57.8,495.2 56.6,491.0 55.3,491.0 55.5,496.8 54.7,497.1M69.1,479.4 70.0,481.7 71.0,480.6 71.3,482.9 69.6,485.9 69.4,482.9 69.1,479.4M70.0,491.5 72.9,490.8 75.4,492.4 72.9,492.2 70.0,491.5M66.2,491.7 68.5,492.2 67.3,492.9 66.2,491.7M61.4,508.0 64.3,504.9 68.1,503.6 65.2,506.1 62.4,507.7 61.4,508.0M54.7,503.6 56.6,504.0 60.4,503.3 58.5,504.5 54.7,504.5M54.7,506.1 56.2,507.3M82.1,497.5 82.8,499.8 81.9,499.4 82.1,497.5M76.7,501.0 77.1,502.6M215.4,438.3 216.0,437.2 217.5,438.5 216.2,439.9 215.4,438.3M214.1,435.8 215.4,436.0M211.2,434.1 212.2,434.4M338.9,485.0 340.2,486.1M291.6,414.4 294.3,417.4 295.6,419.5 294.3,420.0 296.8,422.1 299.2,426.0 299.6,427.2 302.1,429.7 303.8,430.9 304.4,429.5 302.9,427.6 301.2,423.7 298.9,421.4 298.1,419.0 296.2,416.7 294.7,414.4M298.1,414.4 299.1,416.7 301.2,419.0 304.4,421.4 305.0,424.4 307.7,427.2 310.3,430.2 312.1,433.4 312.3,436.7 314.4,439.5 318.4,442.3 321.6,444.1 325.5,446.9 329.7,447.6 332.2,446.4 334.1,448.1 337.5,450.4 338.9,451.8 342.1,452.7 345.9,453.4 346.5,454.1 347.9,456.2 350.0,458.5 349.8,460.8 351.9,461.8 351.3,464.1 354.2,464.5 355.7,465.0 357.4,466.4 359.0,467.1 360.5,466.4 359.9,464.8 361.8,463.2 362.8,464.5 364.3,465.5 365.6,467.8 366.0,471.3 365.8,474.8 363.7,477.8 363.4,479.9 360.9,482.0 359.9,484.1 359.3,486.4 359.1,489.2 361.4,489.9 360.1,491.9 358.4,494.0 358.6,498.0 360.9,500.8 363.4,504.9 365.1,509.6 367.8,515.4 370.0,519.6 374.8,523.5 378.7,525.8 379.6,530.5 379.2,537.4 379.0,544.4 377.5,551.4 377.1,553.7M341.7,414.4 338.9,415.3 334.1,415.8 328.3,419.5 327.8,423.7 327.0,428.3 327.0,432.3 328.3,436.5 330.2,439.9 333.1,441.1 336.9,441.1 339.8,439.9 340.8,435.8 341.7,434.6 346.5,434.1 347.9,434.6 346.5,438.8 345.6,442.3 344.6,446.9 347.5,447.4 351.3,447.4 354.6,449.2 354.2,453.9 353.6,458.5 355.1,460.8 357.0,463.2 359.9,462.5 361.8,462.0 364.7,462.5 366.0,463.9 367.2,464.8 369.5,460.8 370.4,458.5 375.2,456.2 377.1,455.5 376.9,457.4 376.2,459.0 377.1,460.8 376.2,462.7 377.7,459.7 379.6,457.6 380.0,456.9M348.4,414.4 352.8,414.6 355.1,416.7 355.7,419.0 357.0,423.7 358.6,425.5 360.5,425.3 360.9,421.4 359.3,417.9 358.2,414.4M351.3,433.0 355.1,430.7 359.0,430.7 362.8,431.8 366.6,434.8 372.0,437.2 370.4,437.8 365.6,437.8 363.7,436.0 360.9,433.7 357.0,433.9 355.1,432.5 351.3,433.0M371.4,438.1 374.3,438.1 377.1,438.3 380.0,440.6M380.0,441.3 376.2,441.8 372.3,442.3 371.4,441.1 374.3,440.9 371.4,438.1M363.9,441.3 367.9,441.8 366.6,442.7 363.9,441.3M364.7,422.5 366.2,426.0M369.5,428.3 371.0,430.2M365.3,427.2 365.1,428.8M327.8,423.7 318.8,415.6 316.9,414.4M337.5,450.4 339.8,442.7 343.6,442.7 344.6,446.9M363.4,479.9 369.5,484.1 374.3,488.7 380.0,493.8M360.3,491.9 363.7,495.2 370.4,488.7 374.3,488.7M378.7,525.8 380.0,524.7M366.0,463.9 366.2,467.1M376.2,457.4 375.2,463.2 379.0,467.8 380.0,469.7" fill="none" stroke="#8c8c8c" stroke-width="0.6" stroke-linejoin="round"/>
<rect x="133.5" y="473.4" width="94.1" height="22.3" fill="#eef03a" stroke="#4a4b14" stroke-width="0.9"/>
<rect x="227.6" y="473.4" width="114.7" height="22.3" fill="#fa0606" stroke="#5a0808" stroke-width="0.7"/>
<path d="M133.5,484.2H342.3" stroke="#000" stroke-opacity=".3" stroke-width="0.7"/>
<rect x="196.7" y="473.4" width="88.5" height="22.3" fill="none" stroke="#111" stroke-width="1.4"/>
<rect x="343.0" y="485.0" width="16.3" height="21" fill="#fff" stroke="#111" stroke-width="1.5"/>
<rect x="54.7" y="414.4" width="325.3" height="139.3" fill="none" stroke="#111" stroke-width="1.1"/>
<path d="M51.7,414.4H54.7M51.7,437.6H54.7M51.7,460.8H54.7M51.7,484.1H54.7M51.7,507.3H54.7M51.7,530.5H54.7M51.7,553.7H54.7M54.7,553.7v3M112.1,553.7v3M169.5,553.7v3M226.9,553.7v3M284.3,553.7v3M341.7,553.7v3" stroke="#111" stroke-width="1" fill="none"/>
<text class="ml" transform="translate(50.7,417.4) scale(0.8,1)" text-anchor="end">30N</text>
<text class="ml" transform="translate(50.7,440.6) scale(0.8,1)" text-anchor="end">20N</text>
<text class="ml" transform="translate(50.7,463.8) scale(0.8,1)" text-anchor="end">10N</text>
<text class="ml" transform="translate(50.7,487.1) scale(0.8,1)" text-anchor="end">EQ</text>
<text class="ml" transform="translate(50.7,510.3) scale(0.8,1)" text-anchor="end">10S</text>
<text class="ml" transform="translate(50.7,533.5) scale(0.8,1)" text-anchor="end">20S</text>
<text class="ml" transform="translate(50.7,556.7) scale(0.8,1)" text-anchor="end">30S</text>
<text class="ml" transform="translate(54.7,563.9) scale(0.8,1)" text-anchor="middle">120E</text>
<text class="ml" transform="translate(112.1,563.9) scale(0.8,1)" text-anchor="middle">150E</text>
<text class="ml" transform="translate(169.5,563.9) scale(0.8,1)" text-anchor="middle">180</text>
<text class="ml" transform="translate(226.9,563.9) scale(0.8,1)" text-anchor="middle">150W</text>
<text class="ml" transform="translate(284.3,563.9) scale(0.8,1)" text-anchor="middle">120W</text>
<text class="ml" transform="translate(341.7,563.9) scale(0.8,1)" text-anchor="middle">90W</text>
<text class="rg" x="172.4" y="505" textLength="31.2">Niño 4</text>
<text class="rg" x="222.2" y="471.7" textLength="40.4">Niño 3.4</text>
<text class="rg" x="273" y="505.5" textLength="31.5">Niño 3</text>
<text class="rg" x="330.3" y="472.6" textLength="43">Niño 1+2</text>
</svg>
</body></html>
